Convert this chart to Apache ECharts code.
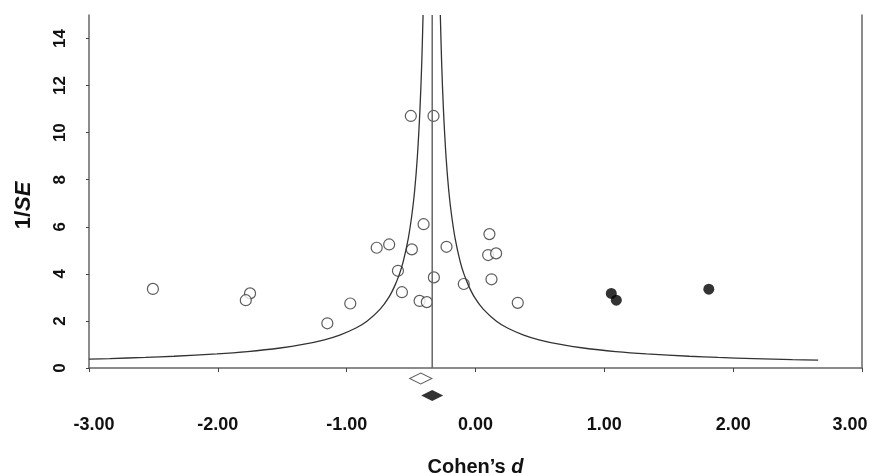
<!DOCTYPE html>
<html>
<head>
<meta charset="utf-8">
<script src="https://cdn.jsdelivr.net/npm/echarts@6/dist/echarts.min.js"></script>
<style>
html,body{margin:0;padding:0;background:#fff;}
#chart{width:877px;height:473px;}
</style>
</head>
<body>
<div id="chart"></div>
<script>
// ---- data ----
const xTicks = [-3, -2, -1, 0, 1, 2, 3];
const yTicks = [0, 2, 4, 6, 8, 10, 12, 14];

// observed studies: [Cohen's d, 1/SE]
const observedStudies = [
  [-0.502, 10.71], [-0.326, 10.71], [-0.403, 6.11], [-0.767, 5.11],
  [-0.670, 5.25], [-0.494, 5.04], [-0.225, 5.15], [0.108, 5.69],
  [0.098, 4.80], [0.160, 4.87], [-0.602, 4.13], [-0.323, 3.85],
  [-0.091, 3.57], [0.124, 3.77], [-0.571, 3.22], [-0.972, 2.74],
  [-0.434, 2.85], [-0.378, 2.80], [0.328, 2.77], [-1.150, 1.90],
  [-2.504, 3.36], [-1.750, 3.17], [-1.783, 2.88]
];
// imputed (filled) studies
const imputedStudies = [[1.054, 3.17], [1.093, 2.88], [1.811, 3.35]];

// pooled estimates: observed (open diamond) and adjusted (filled diamond)
const observedEstimate = -0.425;
const adjustedEstimate = -0.336;

// funnel boundary, read point by point: [Cohen's d, 1/SE]
const funnelLeft = [
  [-3.0, 0.376], [-2.84, 0.40], [-2.562, 0.45], [-2.34, 0.50], [-2.007, 0.60],
  [-1.769, 0.70], [-1.516, 0.85], [-1.34, 1.0], [-1.173, 1.2], [-1.054, 1.4],
  [-0.928, 1.7], [-0.84, 2.0], [-0.74, 2.5], [-0.673, 3.0], [-0.626, 3.5],
  [-0.59, 4.0], [-0.562, 4.5], [-0.522, 5.5], [-0.494, 6.5], [-0.473, 7.5],
  [-0.451, 9.0], [-0.431, 11.0], [-0.417, 13.0], [-0.407, 15.0]
];
const funnelRight = [
  [2.66, 0.333], [2.46, 0.357], [2.16, 0.40], [1.882, 0.45], [1.66, 0.50],
  [1.327, 0.60], [1.089, 0.70], [0.836, 0.85], [0.66, 1.0], [0.493, 1.2],
  [0.374, 1.4], [0.248, 1.7], [0.16, 2.0], [0.06, 2.5], [-0.007, 3.0],
  [-0.054, 3.5], [-0.09, 4.0], [-0.118, 4.5], [-0.158, 5.5], [-0.186, 6.5],
  [-0.207, 7.5], [-0.229, 9.0], [-0.249, 11.0], [-0.263, 13.0], [-0.273, 15.0]
];
const meanLine = [[adjustedEstimate, 0], [adjustedEstimate, 15]];

// ---- chart ----
const FONT = '"Liberation Sans", Arial, sans-serif';
const AXIS_COLOR = '#666';
const TEXT_COLOR = '#111';
const labelStyle = {fontFamily: FONT, fontWeight: 'bold', fontSize: 18, color: TEXT_COLOR};
const chart = echarts.init(document.getElementById('chart'), null, {renderer: 'canvas'});

chart.setOption({
  animation: false,
  backgroundColor: '#fff',
  grid: [
    {left: 89, right: 15, top: 15, bottom: 105, containLabel: false, outerBoundsMode: 'none'},
    {left: 89, right: 15, top: 370, height: 34, containLabel: false, outerBoundsMode: 'none'}
  ],
  xAxis: [
    {
      type: 'value', gridIndex: 0, min: -3, max: 3, interval: 1,
      name: 'Cohen\u2019s {i|d}', nameLocation: 'middle', nameGap: 89,
      nameTextStyle: {
        fontFamily: FONT, fontWeight: 'bold', fontSize: 20, color: TEXT_COLOR,
        rich: {i: {fontFamily: FONT, fontWeight: 'bold', fontStyle: 'italic', fontSize: 20, color: TEXT_COLOR}}
      },
      axisLine: {show: true, onZero: false, lineStyle: {color: AXIS_COLOR, width: 1.5}},
      axisTick: {show: true, length: 4, lineStyle: {color: '#444', width: 1}, customValues: xTicks},
      axisLabel: Object.assign({
        customValues: xTicks,
        margin: 48,
        formatter: v => {
          const t = v.toFixed(2);
          if (v === xTicks[0]) return '{first|' + t + '}';
          if (v === xTicks[xTicks.length - 1]) return '{last|' + t + '}';
          return t;
        },
        rich: {
          first: Object.assign({padding: [0, 0, 0, 10]}, labelStyle),
          last: Object.assign({padding: [0, 24, 0, 0]}, labelStyle)
        }
      }, labelStyle),
      splitLine: {show: false}
    },
    {type: 'value', gridIndex: 1, min: -3, max: 3, show: false}
  ],
  yAxis: [
    {
      type: 'value', gridIndex: 0, min: 0, max: 15, position: 'left',
      name: '1/{i|SE}', nameLocation: 'middle', nameGap: 54,
      nameTextStyle: {
        fontFamily: FONT, fontWeight: 'bold', fontSize: 22, color: TEXT_COLOR,
        padding: [0, 28, 0, 0],
        rich: {i: {fontFamily: FONT, fontWeight: 'bold', fontStyle: 'italic', fontSize: 22, color: TEXT_COLOR}}
      },
      axisLine: {show: true, onZero: false, lineStyle: {color: AXIS_COLOR, width: 1.5}},
      axisTick: {show: true, length: 3, lineStyle: {color: '#444', width: 1}, customValues: yTicks},
      axisLabel: {
        customValues: yTicks, rotate: 90,
        margin: 20, fontFamily: FONT, fontWeight: 'bold', fontSize: 17, color: TEXT_COLOR
      },
      splitLine: {show: false}
    },
    {
      type: 'value', gridIndex: 0, min: 0, max: 15, position: 'right',
      axisLine: {show: true, onZero: false, lineStyle: {color: AXIS_COLOR, width: 1.5}},
      axisTick: {show: false}, axisLabel: {show: false}, splitLine: {show: false}
    },
    {type: 'category', gridIndex: 1, data: ['observed', 'adjusted'], inverse: true, show: false}
  ],
  series: [
    {
      type: 'line', xAxisIndex: 0, yAxisIndex: 0, data: funnelLeft,
      smooth: 0.3, symbol: 'none', silent: true,
      lineStyle: {color: '#333', width: 1.3}
    },
    {
      type: 'line', xAxisIndex: 0, yAxisIndex: 0, data: funnelRight,
      smooth: 0.3, symbol: 'none', silent: true,
      lineStyle: {color: '#333', width: 1.3}
    },
    {
      type: 'line', xAxisIndex: 0, yAxisIndex: 0, data: meanLine,
      symbol: 'none', silent: true,
      lineStyle: {color: '#666', width: 1.5}
    },
    {
      type: 'scatter', xAxisIndex: 0, yAxisIndex: 0, data: observedStudies,
      symbol: 'circle', symbolSize: 11,
      itemStyle: {color: '#fff', borderColor: '#333', borderWidth: 1.2}
    },
    {
      type: 'scatter', xAxisIndex: 0, yAxisIndex: 0, data: imputedStudies,
      symbol: 'circle', symbolSize: 11,
      itemStyle: {color: '#000', borderColor: '#000', borderWidth: 0}
    },
    {
      type: 'scatter', xAxisIndex: 1, yAxisIndex: 2,
      data: [[observedEstimate, 'observed']],
      symbol: 'diamond', symbolSize: [22, 11],
      itemStyle: {color: '#fff', borderColor: '#333', borderWidth: 1.2}
    },
    {
      type: 'scatter', xAxisIndex: 1, yAxisIndex: 2,
      data: [[adjustedEstimate, 'adjusted']],
      symbol: 'diamond', symbolSize: [22, 11],
      itemStyle: {color: '#000'}
    }
  ]
});
</script>
</body>
</html>
